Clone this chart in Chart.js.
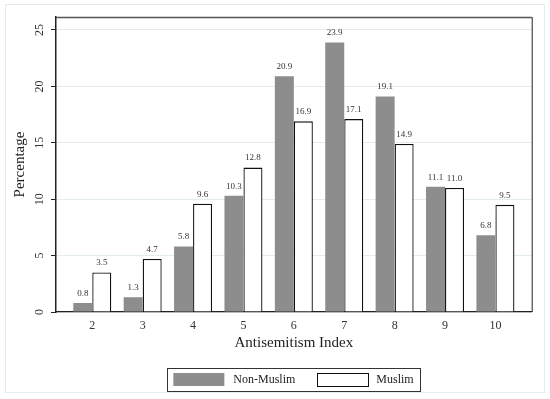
<!DOCTYPE html>
<html>
<head>
<meta charset="utf-8">
<script src="https://cdn.jsdelivr.net/npm/chart.js@4/dist/chart.umd.min.js"></script>
<style>
  html, body { margin: 0; padding: 0; background: #fff; }
  #wrap { width: 550px; height: 399px; position: relative; }
</style>
</head>
<body>
<div id="wrap"><canvas id="c" width="550" height="399"></canvas></div>
<script>
const categories = [2, 3, 4, 5, 6, 7, 8, 9, 10];
const nonMuslim = [0.8, 1.3, 5.8, 10.3, 20.9, 23.9, 19.1, 11.1, 6.8];
const muslim = [3.5, 4.7, 9.6, 12.8, 16.9, 17.1, 14.9, 11.0, 9.5];
const yTicks = [0, 5, 10, 15, 20, 25];
const seriesNames = ['Non-Muslim', 'Muslim'];

const SERIF = '"Liberation Serif", "DejaVu Serif", serif';

const framePlugin = {
  id: 'frame',
  beforeDraw(chart) {
    const ctx = chart.ctx;
    ctx.save();
    ctx.fillStyle = '#fff';
    ctx.fillRect(0, 0, chart.width, chart.height);
    ctx.strokeStyle = '#e4ecee';
    ctx.lineWidth = 1;
    ctx.strokeRect(5.5, 4.5, chart.width - 11, chart.height - 11);
    ctx.restore();
  },
  afterDraw(chart) {
    const ctx = chart.ctx;
    const a = chart.chartArea;
    const ys = chart.scales.y;
    ctx.save();
    // top and right frame
    ctx.strokeStyle = '#555';
    ctx.lineWidth = 1.6;
    ctx.beginPath();
    ctx.moveTo(a.left, a.top + 0.5);
    ctx.lineTo(a.right, a.top + 0.5);
    ctx.stroke();
    ctx.strokeStyle = '#222';
    ctx.lineWidth = 1;
    ctx.beginPath();
    ctx.moveTo(a.right + 0.5, a.top);
    ctx.lineTo(a.right + 0.5, a.bottom);
    ctx.stroke();

    // y tick labels, rotated
    ctx.fillStyle = '#333';
    ctx.font = '12px ' + SERIF;
    ctx.textAlign = 'center';
    ctx.textBaseline = 'middle';
    ys.ticks.forEach(t => {
      const py = ys.getPixelForValue(t.value);
      ctx.save();
      ctx.translate(a.left - 16, py);
      ctx.rotate(-Math.PI / 2);
      ctx.fillText(String(t.value), 0, 0);
      ctx.restore();
    });

    // value labels above bars
    ctx.font = '9px ' + SERIF;
    ctx.fillStyle = '#333';
    ctx.textAlign = 'center';
    ctx.textBaseline = 'bottom';
    chart.data.datasets.forEach((ds, di) => {
      const meta = chart.getDatasetMeta(di);
      meta.data.forEach((bar, i) => {
        const v = ds.data[i].y;
        ctx.fillText(v.toFixed(1), bar.x, bar.y - 5);
      });
    });

    // legend
    const cx = (a.left + a.right) / 2;
    const boxW = 253, boxH = 23;
    const bx = cx - boxW / 2, by = 368;
    ctx.strokeStyle = '#333';
    ctx.lineWidth = 1;
    ctx.strokeRect(Math.round(bx) + 0.5, by + 0.5, boxW, boxH);
    const sw = 51, sh = 13;
    const s1x = bx + 6, s2x = bx + 150;
    const sy = by + 5;
    ctx.fillStyle = chart.data.datasets[0].backgroundColor;
    ctx.fillRect(s1x, sy, sw, sh);
    ctx.fillStyle = '#fff';
    ctx.fillRect(s2x, sy, sw, sh);
    ctx.strokeStyle = '#111';
    ctx.strokeRect(Math.round(s2x) + 0.5, sy + 0.5, sw, sh);
    ctx.fillStyle = '#222';
    ctx.font = '12px ' + SERIF;
    ctx.textAlign = 'left';
    ctx.textBaseline = 'middle';
    ctx.fillText(seriesNames[0], s1x + sw + 9, sy + sh / 2 + 0.5);
    ctx.fillText(seriesNames[1], s2x + sw + 8, sy + sh / 2 + 0.5);
    ctx.restore();
  }
};

new Chart(document.getElementById('c'), {
  type: 'bar',
  data: {
    datasets: [
      {
        label: seriesNames[0],
        data: categories.map((c, i) => ({ x: c, y: nonMuslim[i] })),
        backgroundColor: '#8d8d8d',
        borderWidth: 0
      },
      {
        label: seriesNames[1],
        data: categories.map((c, i) => ({ x: c, y: muslim[i] })),
        backgroundColor: '#ffffff',
        borderColor: '#111',
        borderWidth: 1.3
      }
    ]
  },
  options: {
    responsive: false,
    animation: false,
    devicePixelRatio: 1,
    categoryPercentage: 0.754,
    barPercentage: 1,
    layout: { padding: { left: 7, top: 17, right: 18.3, bottom: 43 } },
    plugins: {
      legend: { display: false },
      tooltip: { enabled: false }
    },
    scales: {
      x: {
        type: 'linear',
        offset: false,
        min: 1.28,
        max: 10.72,
        afterBuildTicks: s => { s.ticks = categories.map(v => ({ value: v })); },
        afterFit: s => { s.height = 44; },
        grid: { display: false, drawTicks: false, offset: false },
        border: { display: true, color: '#222', width: 1.2 },
        ticks: {
          padding: 7,
          color: '#333',
          font: { family: SERIF, size: 12 },
          maxRotation: 0,
          autoSkip: false
        },
        title: {
          display: true,
          text: 'Antisemitism Index',
          color: '#222',
          font: { family: SERIF, size: 15 },
          padding: { top: 4, bottom: 4 }
        }
      },
      y: {
        min: 0,
        max: 26.15,
        afterBuildTicks: s => { s.ticks = yTicks.map(v => ({ value: v })); },
        afterFit: s => { s.width = 49; },
        grid: {
          color: '#e3ecee',
          lineWidth: 1,
          drawTicks: true,
          tickLength: 5,
          tickColor: '#222'
        },
        border: { display: true, color: '#222', width: 1.5 },
        ticks: { display: false },
        title: {
          display: true,
          text: 'Percentage',
          color: '#222',
          font: { family: SERIF, size: 15 },
          padding: { top: 4, bottom: 4 }
        }
      }
    }
  },
  plugins: [framePlugin]
});
</script>
</body>
</html>
